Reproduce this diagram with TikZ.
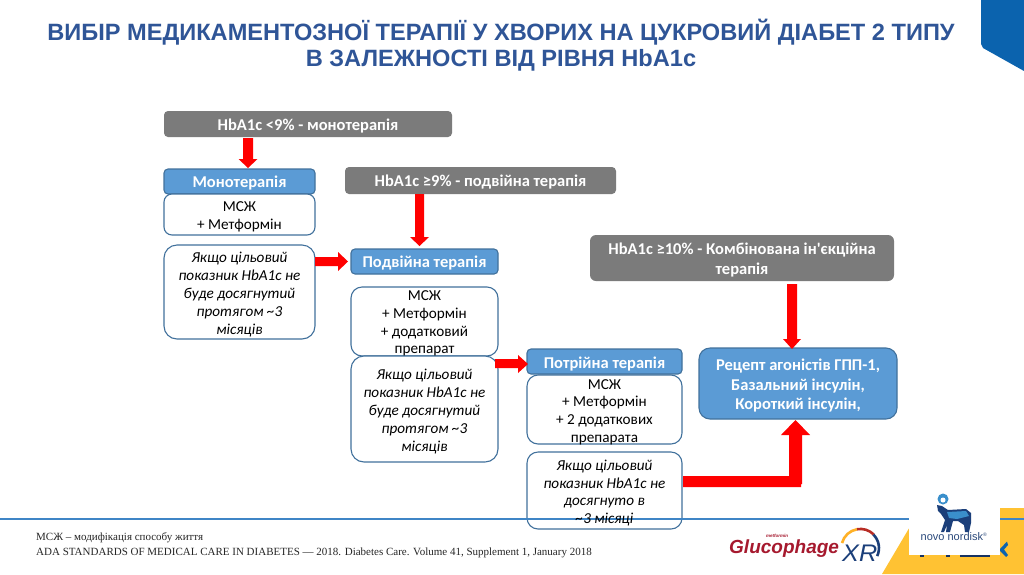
\documentclass[tikz,border=0pt]{standalone}
\usepackage{fontspec}
\setmainfont{Carlito}[Ligatures=TeXOff]
\newfontfamily\titlefont{Liberation Sans}
\newfontfamily\footfont{Liberation Serif}
\definecolor{boxblue}{HTML}{5B9BD5}
\definecolor{boxedge}{HTML}{41719C}
\definecolor{greybox}{HTML}{7B7B7B}
\definecolor{titleblue}{HTML}{2F5597}
\definecolor{cornerblue}{HTML}{0B63AE}
\definecolor{ruleblue}{HTML}{3F85C6}
\definecolor{gold}{HTML}{FFC233}
\definecolor{gred}{HTML}{A6192E}
\definecolor{bull}{HTML}{1B3F7A}
\definecolor{bullb}{HTML}{3A8FCB}
\tikzset{
 x=1pt,y=-1pt,
 body/.style={font=\fontsize{15.2}{17.8}\selectfont,align=center,text=black,inner sep=0pt,yshift=-2pt},
 bodyit/.style={font=\fontsize{15.2}{17.8}\selectfont\itshape,align=center,text=black,inner sep=0pt,yshift=-2.5pt},
 panel/.style={draw=boxedge,line width=1.1pt,fill=white,rounded corners=11pt},
 headbox/.style={draw=boxedge,line width=1.1pt,fill=boxblue,rounded corners=4pt},
 greyb/.style={fill=greybox,rounded corners=4pt},
 headtext/.style={font=\fontsize{16.5}{19.8}\selectfont\bfseries,text=white,align=center,inner sep=0pt,yshift=-2pt},
 redarrow/.style={fill=red,draw=none},
}
\newcommand{\boxat}[6]{% style,name,x0,y0,x1,y1
 \path[#1] (#3,#4) rectangle (#5,#6);
 \coordinate (#2) at ({(#3+#5)/2},{(#4+#6)/2});}
\begin{document}
\begin{tikzpicture}
\useasboundingbox (0,0) rectangle (1024,574);
\fill[white] (0,0) rectangle (1024,574);
% corner
\fill[cornerblue] (981,0) -- (1024,0) -- (1024,71) -- (983,48) -- (981,44) -- cycle;
% title
\node[font=\titlefont\bfseries\fontsize{23.6}{26.5}\selectfont,text=titleblue,align=center,inner sep=0pt] (title) at (501,45)
 {ВИБІР МЕДИКАМЕНТОЗНОЇ ТЕРАПІЇ У ХВОРИХ НА ЦУКРОВИЙ ДІАБЕТ 2 ТИПУ\\В ЗАЛЕЖНОСТІ ВІД РІВНЯ HbA1c};
% yellow
\fill[gold] (882,574) -- (921,508) -- (1024,508) -- (1024,574) -- cycle;
% boxes
\boxat{greyb}{g1}{164}{111}{452}{137}
\boxat{headbox}{m1}{164}{169}{315}{194}
\boxat{panel,rounded corners=8pt}{m2}{164}{194}{315}{235}
\boxat{panel,rounded corners=13pt}{m3}{164}{245}{315}{339}
\boxat{greyb}{g2}{345}{167}{616}{194}
\boxat{headbox}{d1}{351}{249}{498}{274}
\boxat{panel}{d2}{351}{287}{498}{356}
\boxat{panel,rounded corners=13pt}{d3}{351}{356}{498}{462}
\boxat{greyb,rounded corners=6pt}{g3}{590}{235}{894}{281}
\boxat{headbox}{t1}{527}{349}{682}{374}
\boxat{panel}{t2}{527}{375}{682}{444}
\boxat{panel}{t3}{527}{452}{682}{529}
\path[headbox,rounded corners=11pt] (699,348) rectangle (897,419);
\coordinate (r1) at (798,383.5);
% arrows
\fill[redarrow] (243,138) -- (253,138) -- (253,159) -- (257.5,159) -- (248,168) -- (238.5,159) -- (243,159) -- cycle;
\fill[redarrow] (415,194) -- (424,194) -- (424,237) -- (429,237) -- (419.5,246) -- (410,237) -- (415,237) -- cycle;
\fill[redarrow] (315,257) -- (338,257) -- (338,252) -- (348,261.5) -- (338,271) -- (338,266) -- (315,266) -- cycle;
\fill[redarrow] (495,359) -- (518,359) -- (518,355) -- (528,364) -- (518,373) -- (518,368) -- (495,368) -- cycle;
\fill[redarrow] (787,284) -- (797,284) -- (797,339) -- (801,339) -- (792,349) -- (783,339) -- (787,339) -- cycle;
\fill[redarrow] (683,476) -- (789,476) -- (789,435) -- (781,435) -- (795.5,420) -- (810,435) -- (802,435) -- (802,484) -- (801,484) -- (801,487) -- (683,487) -- cycle;
% rule
\draw[ruleblue,line width=1.4pt] (0,519) -- (1024,519);
% texts
\node[headtext] (tg1) at (g1) {HbA1c <9\% - монотерапія};
\node[headtext] (tm1) at (m1) {Монотерапія};
\node[body] (tm2) at (m2) {МСЖ\\+ Метформін};
\node[bodyit] (tm3) at (m3) {Якщо цільовий\\показник HbA1c не\\буде досягнутий\\протягом \char`\~3\\місяців};
\node[headtext] (tg2) at (g2) {HbA1c ≥9\% - подвійна терапія};
\node[headtext] (td1) at (d1) {Подвійна терапія};
\node[body] (td2) at (d2) {МСЖ\\+ Метформін\\+ додатковий\\препарат};
\node[bodyit] (td3) at (d3) {Якщо цільовий\\показник HbA1c не\\буде досягнутий\\протягом \char`\~3\\місяців};
\node[headtext] (tg3) at (g3) {HbA1c ≥10\% - Комбінована ін'єкційна\\терапія};
\node[headtext] (tt1) at (t1) {Потрійна терапія};
\node[body] (tt2) at (604.5,410) {МСЖ\\+ Метформін\\+ 2 додаткових\\препарата};
\node[bodyit] (tt3) at (604.5,490.5) {Якщо цільовий\\показник HbA1c не\\досягнуто в\\\char`\~3 місяці};
\node[headtext] (tr1) at (r1) {Рецепт агоністів ГПП-1,\\Базальний інсулін,\\Короткий інсулін,};
% footer
\node[anchor=north west,font=\footfont\fontsize{11}{14.5}\selectfont,align=left,inner sep=0pt,text=black!85] (foot) at (36,532.5)
 {МСЖ – модифікація способу життя\\ADA STANDARDS OF MEDICAL CARE IN DIABETES — 2018. Diabetes Care. Volume 41, Supplement 1, January 2018};
% glucophage
\draw[gold!75!orange,line width=2.6pt] (842,543) arc[start angle=165,end angle=100,radius=19pt];
\draw[gred!80!orange,line width=2.6pt] (857,529.2) arc[start angle=100,end angle=45,radius=19pt];
\draw[bull,line width=2.6pt] (873.4,534.6) arc[start angle=45,end angle=-25,radius=19pt];
\node[anchor=base west,font=\titlefont\bfseries\itshape\fontsize{19}{19}\selectfont,text=gred,inner sep=0pt] (gl) at (729,553) {Glucophage};
\node[anchor=base west,font=\titlefont\bfseries\itshape\fontsize{4.5}{4.5}\selectfont,text=gred,inner sep=0pt] (gm) at (766,537.5) {metformin};
\node[anchor=base west,font=\titlefont\itshape\fontsize{24}{24}\selectfont,text=bull,inner sep=0pt,xscale=1.05] (xr) at (842,561) {XR};
% fragments under the logo
\fill[cornerblue] (1000,549) -- (1007,541.5) -- (1008,545) -- (1004,549.5) -- (1008,555) -- (1006,557) -- (1000,551) -- cycle;
\fill[bull!80!black] (920,554) rectangle (924,557);
\fill[bull!80!black] (946,554) rectangle (950,557);
\fill[bull!80!black] (960,554) rectangle (990,556.5);
% novo nordisk
\fill[white] (909,481) rectangle (1000,555);
\node[font=\titlefont\fontsize{11}{11}\selectfont,text=bull!85!gray,inner sep=0pt] (nn) at (954,537) {novo nordisk\textsuperscript{\tiny ®}};
\fill[bull] (937,505) -- (942,506) -- (948,510) -- (966,509) -- (971,513) -- (971,523) -- (969,532) -- (965,532) -- (964,525) -- (958,521) -- (953,521) -- (950,532) -- (946,532) -- (947,525) -- (944,532) -- (941,532) -- (945,520) -- (941,514) -- (938,511) -- cycle;
\fill[bullb] (947,512) -- (966,511) -- (969,516) -- (957,519) -- (949,518) -- cycle;
\fill[bullb] (943,499) circle[radius=5.5pt];
\fill[white] (943,500) circle[radius=2.5pt];
\end{tikzpicture}
\end{document}
